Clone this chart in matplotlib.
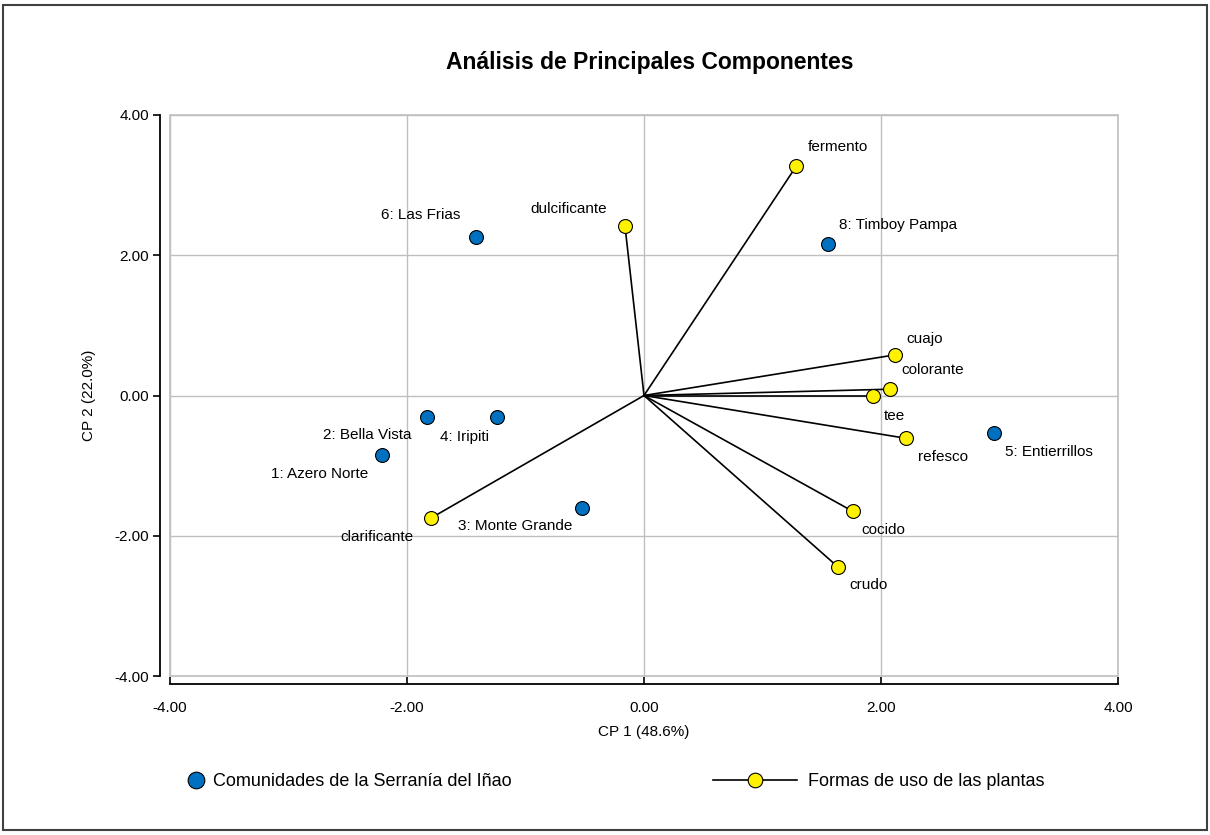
import matplotlib
matplotlib.use("Agg")
import matplotlib.pyplot as plt
from matplotlib.lines import Line2D
from matplotlib.patches import Rectangle

plt.rcParams['font.family'] = ['Liberation Sans', 'DejaVu Sans']

# comunidades (puntos azules)
com_names = ['1: Azero Norte', '2: Bella Vista', '3: Monte Grande', '4: Iripiti',
             '5: Entierrillos', '6: Las Frias', '8: Timboy Pampa']
com_x = [-2.21, -1.83, -0.52, -1.24, 2.95, -1.42, 1.55]
com_y = [-0.85, -0.30, -1.60, -0.30, -0.53, 2.26, 2.16]

# formas de uso (vectores amarillos)
uso_names = ['fermento', 'dulcificante', 'cuajo', 'colorante', 'tee',
             'refesco', 'cocido', 'crudo', 'clarificante']
uso_x = [1.285, -0.16, 2.12, 2.08, 1.93, 2.21, 1.76, 1.64, -1.80]
uso_y = [3.27, 2.41, 0.58, 0.09, 0.00, -0.61, -1.65, -2.45, -1.75]

ticks = [-4, -2, 0, 2, 4]

# desplazamiento de etiquetas en pixeles (dx, dy, alineacion)
com_off = [(-14, -19, 'right'), (-16, -18, 'right'), (-10, -18, 'right'),
           (-57, -20, 'left'), (11, -19, 'left'), (-15, 22, 'right'), (11, 19, 'left')]
uso_off = [(11, 19, 'left'), (-18, 17, 'right'), (11, 16, 'left'), (11, 19, 'left'),
           (11, -21, 'left'), (12, -19, 'left'), (9, -19, 'left'), (11, -18, 'left'),
           (-17, -19, 'right')]

azul = '#0070C0'
amarillo = '#FFF200'

fig = plt.figure(figsize=(12.1, 8.35), dpi=100)
ax = fig.add_axes([170 / 1210, (835 - 676) / 835, 948 / 1210, 561 / 835])

ax.set_xlim(-4, 4)
ax.set_ylim(-4, 4)
ax.set_xticks(ticks)
ax.set_yticks(ticks)
ax.set_xticklabels(['%.2f' % t for t in ticks])
ax.set_yticklabels(['%.2f' % t for t in ticks])
ax.grid(True, color='#bfbfbf', lw=1.0, zorder=0)
ax.add_patch(Rectangle((0, 0), 1, 1, transform=ax.transAxes, fill=False,
                       ec='#bfbfbf', lw=1.2, clip_on=False, zorder=0.5))

for s in ['top', 'right']:
    ax.spines[s].set_visible(False)
ax.spines['left'].set_position(('outward', 7))
ax.spines['bottom'].set_position(('outward', 6))
for s in ['left', 'bottom']:
    ax.spines[s].set_linewidth(1.3)
ax.tick_params(axis='y', direction='out', length=5, width=1.2, labelsize=11, pad=3)
ax.tick_params(axis='x', direction='in', length=5, width=1.2, labelsize=11, pad=12)

# vectores desde el origen
for x, y in zip(uso_x, uso_y):
    ax.plot([0, x], [0, y], color='black', lw=1.2, zorder=2)

ax.scatter(com_x, com_y, s=100, c=azul, edgecolors='black', linewidths=0.8, zorder=3)
ax.scatter(uso_x, uso_y, s=100, c=amarillo, edgecolors='black', linewidths=0.8, zorder=3)

for name, x, y, (dx, dy, ha) in zip(com_names, com_x, com_y, com_off):
    ax.annotate(name, (x, y), xytext=(dx, dy), textcoords='offset pixels',
                ha=ha, va='center', fontsize=11)
for name, x, y, (dx, dy, ha) in zip(uso_names, uso_x, uso_y, uso_off):
    ax.annotate(name, (x, y), xytext=(dx, dy), textcoords='offset pixels',
                ha=ha, va='center', fontsize=11)

ax.set_xlabel('CP 1 (48.6%)', fontsize=11, labelpad=7)
ax.set_ylabel('CP 2 (22.0%)', fontsize=11, labelpad=13)

fig.text(650 / 1210, 1 - 62 / 835, 'Análisis de Principales Componentes',
         ha='center', va='center', fontsize=16.5, fontweight='bold')

# leyendas
h1 = Line2D([], [], ls='none', marker='o', ms=12, mfc=azul, mec='black', mew=0.8)
h2 = Line2D([], [], color='black', lw=1.2, marker='o', ms=10.5,
            mfc=amarillo, mec='black', mew=0.8)
leg1 = fig.legend([h1], ['Comunidades de la Serranía del Iñao'], loc='center left',
                  bbox_to_anchor=(187 / 1210, 1 - 782 / 835), frameon=False,
                  fontsize=13, handlelength=1.0, handletextpad=0.44,
                  borderpad=0, borderaxespad=0)
leg2 = fig.legend([h2], ['Formas de uso de las plantas'], loc='center left',
                  bbox_to_anchor=(713 / 1210, 1 - 782 / 835), frameon=False,
                  fontsize=13, handlelength=4.65, handletextpad=0.61,
                  borderpad=0, borderaxespad=0)

fig.add_artist(Rectangle((3 / 1210, 5 / 835), 1204 / 1210, 825 / 835,
                         transform=fig.transFigure, fill=False, ec='#404040', lw=1.5))

fig.savefig('out.png', dpi=100)
